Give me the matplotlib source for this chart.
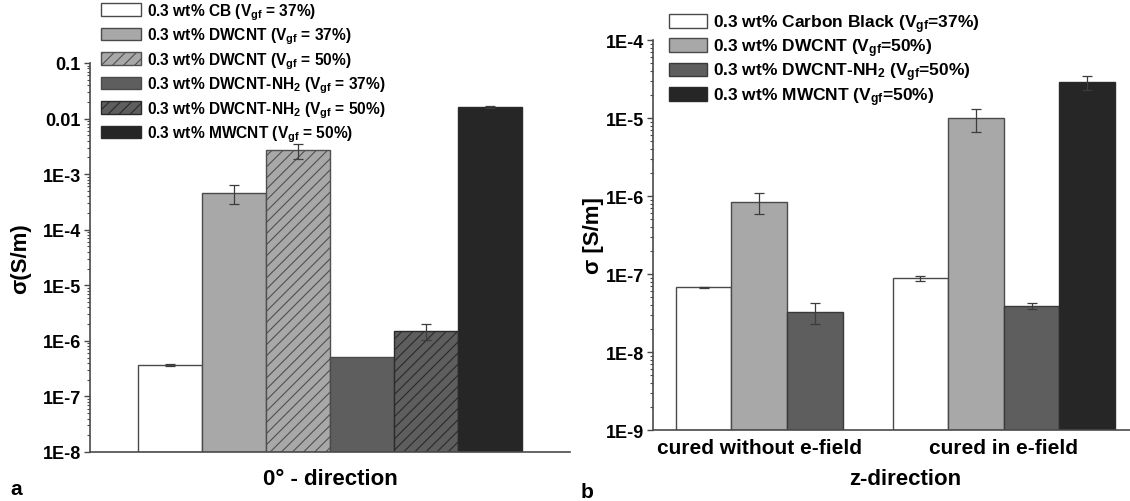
import numpy as np
import matplotlib
matplotlib.use("Agg")
import matplotlib.pyplot as plt
from matplotlib.ticker import FixedLocator, FixedFormatter, LogLocator, NullFormatter

plt.rcParams['font.family'] = ['Liberation Sans', 'DejaVu Sans']
plt.rcParams['font.weight'] = 'bold'
plt.rcParams['mathtext.fontset'] = 'custom'
plt.rcParams['mathtext.rm'] = 'Liberation Sans:bold'
plt.rcParams['mathtext.it'] = 'Liberation Sans:bold'
plt.rcParams['mathtext.bf'] = 'Liberation Sans:bold'
plt.rcParams['hatch.linewidth'] = 0.8

# ---------------- data: panel a (0° direction) ----------------
a_labels = ['0.3 wt% CB (V$_{gf}$ = 37%)',
            '0.3 wt% DWCNT (V$_{gf}$ = 37%)',
            '0.3 wt% DWCNT (V$_{gf}$ = 50%)',
            '0.3 wt% DWCNT-NH$_2$ (V$_{gf}$ = 37%)',
            '0.3 wt% DWCNT-NH$_2$ (V$_{gf}$ = 50%)',
            '0.3 wt% MWCNT (V$_{gf}$ = 50%)']
a_values = [3.7e-7, 4.6e-4, 2.7e-3, 5.1e-7, 1.5e-6, 1.6e-2]
a_err_low = [3.5e-7, 2.85e-4, 1.85e-3, np.nan, 1.05e-6, 1.57e-2]
a_err_high = [3.9e-7, 6.4e-4, 3.5e-3, np.nan, 2.0e-6, 1.65e-2]
a_yticks = [1e-8, 1e-7, 1e-6, 1e-5, 1e-4, 1e-3, 1e-2, 1e-1]
a_yticklabels = ['1E-8', '1E-7', '1E-6', '1E-5', '1E-4', '1E-3', '0.01', '0.1']

# ---------------- data: panel b (z direction) ----------------
b_groups = ['cured without e-field', 'cured in e-field']
b_labels = ['0.3 wt% Carbon Black (V$_{gf}$=37%)',
            '0.3 wt% DWCNT (V$_{gf}$=50%)',
            '0.3 wt% DWCNT-NH$_2$ (V$_{gf}$=50%)',
            '0.3 wt% MWCNT (V$_{gf}$=50%)']
b_without = [6.8e-8, 8.5e-7, 3.3e-8, np.nan]
b_without_low = [6.7e-8, 5.8e-7, 2.3e-8, np.nan]
b_without_high = [6.9e-8, 1.1e-6, 4.3e-8, np.nan]
b_in = [8.8e-8, 1.0e-5, 3.9e-8, 2.9e-5]
b_in_low = [8.1e-8, 6.7e-6, 3.6e-8, 2.3e-5]
b_in_high = [9.5e-8, 1.3e-5, 4.3e-8, 3.45e-5]
b_yticks = [1e-9, 1e-8, 1e-7, 1e-6, 1e-5, 1e-4]
b_yticklabels = ['1E-9', '1E-8', '1E-7', '1E-6', '1E-5', '1E-4']

# ---------------- styles ----------------
a_face = ['#ffffff', '#a8a8a8', '#a8a8a8', '#5e5e5e', '#5e5e5e', '#262626']
a_edge = ['#4a4a4a', '#4a4a4a', '#505050', '#4a4a4a', '#2a2a2a', '#2a2a2a']
a_hatch = [None, None, '///', None, '///', None]
b_face = ['#ffffff', '#a8a8a8', '#5e5e5e', '#262626']
b_edge = ['#4a4a4a', '#4a4a4a', '#3a3a3a', '#2a2a2a']
ecol = '#3c3c3c'
spine_col = '#4a4a4a'

W, H = 1130, 502
fig = plt.figure(figsize=(W / 100, H / 100), dpi=100)


def px_axes(x0, x1, ytop, ybot):
    return fig.add_axes([x0 / W, (H - ybot) / H, (x1 - x0) / W, (ybot - ytop) / H])


def style_axes(ax, ticks, labels):
    ax.set_yscale('log')
    for s in ['top', 'right']:
        ax.spines[s].set_visible(False)
    for s in ['left', 'bottom']:
        ax.spines[s].set_color(spine_col)
        ax.spines[s].set_linewidth(1.2)
    ax.yaxis.set_major_locator(FixedLocator(ticks))
    ax.yaxis.set_major_formatter(FixedFormatter(labels))
    ax.yaxis.set_minor_locator(LogLocator(base=10, subs=np.arange(2, 10)))
    ax.yaxis.set_minor_formatter(NullFormatter())
    ax.tick_params(axis='y', which='major', direction='out', length=4.5, width=1.0,
                   color=spine_col, labelsize=13, pad=2)
    ax.tick_params(axis='y', which='minor', direction='out', length=2.5, width=0.8,
                   color=spine_col)
    for t in ax.get_yticklabels():
        t.set_fontweight('bold')


# ---------------- panel a ----------------
axa = px_axes(90, 570, 64, 453)
a_bottom = a_yticks[0]
xa = np.arange(len(a_values))
for i in range(len(a_values)):
    axa.bar(xa[i], a_values[i] - a_bottom, bottom=a_bottom, width=1.0,
            color=a_face[i], edgecolor=a_edge[i], hatch=a_hatch[i],
            linewidth=1.0, label=a_labels[i], zorder=2)
    if not np.isnan(a_err_low[i]):
        axa.errorbar(xa[i], a_values[i],
                     yerr=[[a_values[i] - a_err_low[i]], [a_err_high[i] - a_values[i]]],
                     fmt='none', ecolor=ecol, elinewidth=0.9, capsize=3.5,
                     capthick=0.9, zorder=3)
axa.set_xlim(-1.25, 6.25)
axa.set_ylim(a_yticks[0], a_yticks[-1])
style_axes(axa, a_yticks, a_yticklabels)
axa.set_xticks([])
axa.set_xlabel('0° - direction', fontsize=16, fontweight='bold')
axa.xaxis.set_label_coords(0.5, -0.04)
axa.set_ylabel('σ(S/m)', fontsize=16, fontweight='bold')
axa.yaxis.set_label_coords(-0.123, 0.5)

ha, la = axa.get_legend_handles_labels()
axa.legend(ha, la, loc='upper left', bbox_to_anchor=(101 / W, 1 - 2 / H),
           bbox_transform=fig.transFigure, frameon=False,
           handlelength=2.6, handleheight=0.85, handletextpad=0.35,
           labelspacing=0.25, borderpad=0, borderaxespad=0,
           prop={'weight': 'bold', 'size': 11.2})

# ---------------- panel b ----------------
axb = px_axes(653, 1130, 41, 431)
b_bottom = b_yticks[0]
group_start = [0.0, 3.9]
series = [(b_without, b_without_low, b_without_high), (b_in, b_in_low, b_in_high)]
for g, (vals, lo, hi) in enumerate(series):
    for i in range(len(vals)):
        if np.isnan(vals[i]):
            continue
        x = group_start[g] + i
        axb.bar(x, vals[i] - b_bottom, bottom=b_bottom, width=1.0,
                color=b_face[i], edgecolor=b_edge[i], linewidth=1.0,
                label=b_labels[i] if g == 1 else None, zorder=2)
        axb.errorbar(x, vals[i], yerr=[[vals[i] - lo[i]], [hi[i] - vals[i]]],
                     fmt='none', ecolor=ecol, elinewidth=0.9, capsize=3.5,
                     capthick=0.9, zorder=3)
axb.set_xlim(-0.91, 7.67)
axb.set_ylim(b_yticks[0], b_yticks[-1])
style_axes(axb, b_yticks, b_yticklabels)
axb.set_xticks([group_start[0] + 1.0, group_start[1] + 1.5])
axb.set_xticklabels(b_groups, fontsize=15, fontweight='bold')
axb.tick_params(axis='x', length=0, pad=6)
axb.set_xlabel('z-direction', fontsize=16, fontweight='bold')
axb.xaxis.set_label_coords(0.528, -0.097)
axb.set_ylabel('σ [S/m]', fontsize=16, fontweight='bold')
axb.yaxis.set_label_coords(-0.102, 0.5)

hb, lb = axb.get_legend_handles_labels()
axb.legend(hb, lb, loc='upper left', bbox_to_anchor=(669 / W, 1 - 13 / H),
           bbox_transform=fig.transFigure, frameon=False,
           handlelength=2.2, handleheight=0.85, handletextpad=0.35,
           labelspacing=0.1, borderpad=0, borderaxespad=0,
           prop={'weight': 'bold', 'size': 12.5})

fig.text(16 / W, 1 - 490 / H, 'a', fontsize=15, fontweight='bold', ha='center', va='center')
fig.text(587 / W, 1 - 493 / H, 'b', fontsize=15, fontweight='bold', ha='center', va='center')

fig.savefig('out.png', dpi=100)
